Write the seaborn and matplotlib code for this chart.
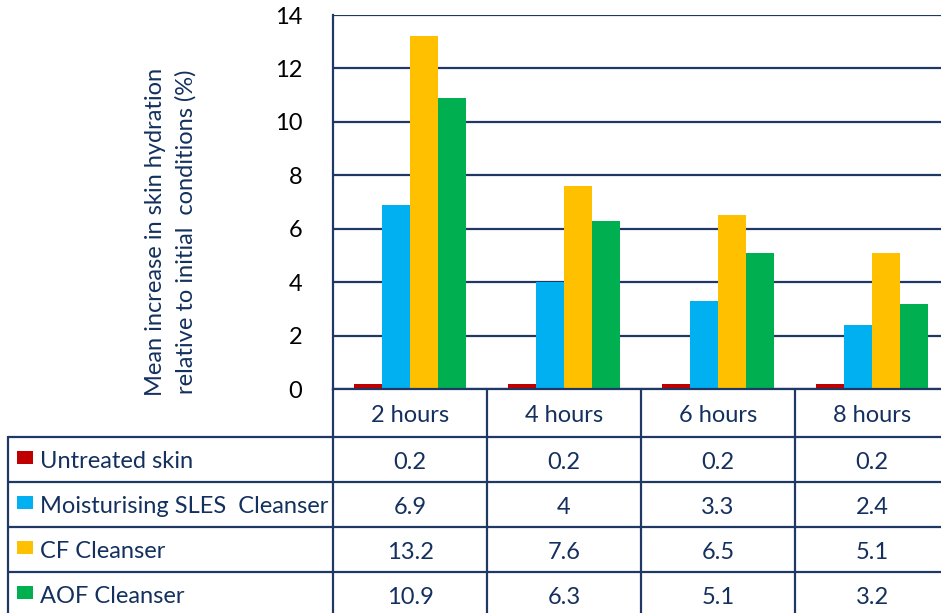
import matplotlib
matplotlib.use("Agg")
import matplotlib.pyplot as plt
import matplotlib.transforms as mtransforms
from matplotlib.patches import Rectangle
import pandas as pd
import seaborn as sns

times = ["2 hours", "4 hours", "6 hours", "8 hours"]
series = ["Untreated skin", "Moisturising SLES  Cleanser", "CF Cleanser", "AOF Cleanser"]
untreated = [0.2, 0.2, 0.2, 0.2]
sles = [6.9, 4, 3.3, 2.4]
cf = [13.2, 7.6, 6.5, 5.1]
aof = [10.9, 6.3, 5.1, 3.2]
colors = ["#C00000", "#00B0F0", "#FFC000", "#00B050"]

values = [untreated, sles, cf, aof]
df = pd.DataFrame(
    [(t, s, v) for s, vals in zip(series, values) for t, v in zip(times, vals)],
    columns=["time", "series", "value"],
)

sns.set_style("white")
plt.rcParams["font.family"] = ["Lato", "DejaVu Sans"]
navy = "#1F3864"
txt = "#14305E"
fs = 17

W, H = 941, 613
fig = plt.figure(figsize=(W / 100, H / 100), dpi=100)

# overlay in pixel coords for the data table and labels
over = fig.add_axes([0, 0, 1, 1])
over.set_xlim(0, W)
over.set_ylim(H, 0)
over.axis("off")

ax = fig.add_axes([333 / W, (H - 389) / H, 616 / W, 374 / H])
sns.barplot(data=df, x="time", y="value", hue="series", palette=colors,
            width=0.727, gap=0, saturation=1, linewidth=0, legend=False, ax=ax)
ax.set_xlim(-0.5, 3.5)
ax.set_ylim(0, 14)
ax.set_yticks(range(0, 15, 2))
ax.yaxis.grid(True, color=navy, linewidth=1.6)
ax.set_axisbelow(True)
for side in ["top", "right"]:
    ax.spines[side].set_visible(False)
for side in ["left", "bottom"]:
    ax.spines[side].set_color(navy)
    ax.spines[side].set_linewidth(1.6)
ax.tick_params(axis="y", length=0, labelsize=fs, labelcolor="black", pad=22)
ax.set_xticks([])
ax.set_xlabel("")
ax.set_ylabel("")
ax.patch.set_alpha(0)

over.text(171, 232, "Mean increase in skin hydration\nrelative to initial  conditions (%)",
          rotation=90, ha="center", va="center", multialignment="center",
          fontsize=fs, color=txt, linespacing=1.5)

# data table below the axes
tr = mtransforms.blended_transform_factory(ax.transData, over.transData)
row_edges = [389, 437, 482, 527, 572, 617]
lw = 1.6
# column lines
for i in range(len(times) + 1):
    over.plot([i - 0.5, i - 0.5], [row_edges[0], H], color=navy, lw=lw,
              transform=tr, clip_on=False)
over.plot([8, 8], [row_edges[1], H], color=navy, lw=lw)
for y in row_edges[1:-1]:
    over.plot([8, W + 10], [y, y], color=navy, lw=lw, clip_on=False)

hdr_y = (row_edges[0] + row_edges[1]) / 2
for i, t in enumerate(times):
    over.text(i, hdr_y + 3, t, transform=tr, ha="center", va="center",
              fontsize=fs, color=txt)

for r, (s, vals, c) in enumerate(zip(series, values, colors)):
    yc = (row_edges[r + 1] + row_edges[r + 2]) / 2
    over.add_patch(Rectangle((17, yc - 8.5), 16, 13, color=c, lw=0))
    over.text(40, yc + 2, s, ha="left", va="center", fontsize=fs, color=txt)
    for i, v in enumerate(vals):
        over.text(i, yc + 3, f"{v:g}", transform=tr, ha="center", va="center",
                  fontsize=fs, color=txt)

fig.savefig("out.png", dpi=100)
